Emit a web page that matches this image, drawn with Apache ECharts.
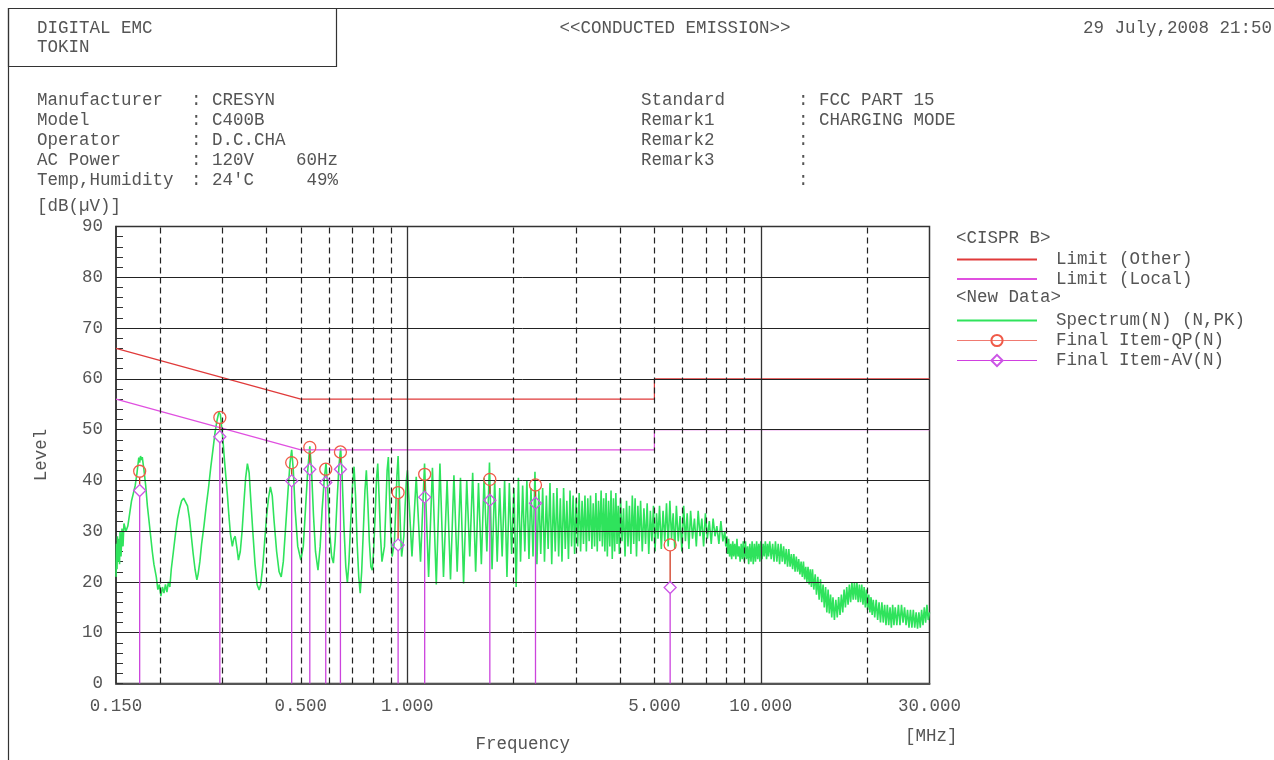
<!DOCTYPE html>
<html><head><meta charset="utf-8">
<script src="https://cdn.jsdelivr.net/npm/echarts@6/dist/echarts.min.js"></script>
<style>html,body{margin:0;padding:0;background:#fff}#c{width:1274px;height:760px}</style>
</head><body><div id="c"></div>
<script>
// ---------- DATA ----------
const xLabelValues = [0.15, 0.5, 1, 5, 10, 30];
const dashedGridFreq = [0.2, 0.3, 0.4, 0.5, 0.6, 0.7, 0.8, 0.9, 2, 3, 4, 5, 6, 7, 8, 9, 20];
const solidGridFreq = [1, 10];
const levelGrid = [10, 20, 30, 40, 50, 60, 70, 80];

const limitFreq = [0.15, 0.5, 5, 5, 30];
const limitOther = [66, 56, 56, 60, 60];
const limitLocal = [56, 46, 46, 50, 50];

const markerFreq = [0.175, 0.295, 0.471, 0.530, 0.588, 0.647, 0.942, 1.120, 1.712, 2.305, 5.54];
const qpLevel = [41.8, 52.4, 43.5, 46.5, 42.2, 45.6, 37.6, 41.2, 40.2, 39.1, 27.3];
const avLevel = [38.0, 48.6, 39.9, 42.2, 39.6, 42.2, 27.3, 36.7, 36.1, 35.5, 18.9];

const specLow = [
[0.150,21.0],[0.1505,27.5],[0.151,22.5],[0.1515,29],[0.152,24],[0.153,28.5],[0.1535,23.5],[0.154,30],
[0.155,25],[0.156,30.5],[0.157,27],[0.158,31.5],[0.160,30],[0.162,31],[0.164,33.5],[0.166,36],
[0.168,37.5],[0.170,39],[0.172,41.5],[0.174,44.5],[0.175,43.5],[0.176,44.8],[0.177,44],[0.178,44.6],
[0.180,42],[0.182,39],[0.184,35],[0.186,32],[0.188,29],[0.190,26],[0.192,23.5],[0.195,21],
[0.197,18.5],[0.199,19.5],[0.201,17.2],[0.203,19],[0.205,17.8],[0.207,19.5],[0.209,18],[0.211,20],
[0.213,19],[0.215,22.5],[0.218,26],[0.221,29.5],[0.224,32.5],[0.227,34.5],[0.230,36],[0.233,36.5],
[0.236,36.3],[0.239,35],[0.242,32.5],[0.245,29],[0.248,25.5],[0.251,22.5],[0.254,20.4],[0.256,21.5],
[0.259,24],[0.262,27.5],[0.266,31],[0.270,35],[0.274,38.5],[0.278,42.5],[0.282,46],[0.286,49.5],
[0.290,52],[0.293,53.4],[0.296,53.0],[0.298,51],[0.301,48],[0.304,44],[0.307,40.5],[0.310,37],
[0.313,33],[0.316,29.5],[0.320,27],[0.323,28.5],[0.326,29],[0.330,26.5],[0.333,24.3],[0.337,26],
[0.341,30],[0.345,35.5],[0.349,40.5],[0.353,43.3],[0.357,41.5],[0.361,36],[0.366,29.5],[0.371,23.5],
[0.376,19.5],[0.381,18.4],[0.385,19.5],[0.390,23],[0.395,28],[0.400,33],[0.405,36.5],[0.410,38.7],
[0.415,37],[0.420,32],[0.427,26],[0.434,22],[0.440,21],[0.446,24],[0.453,31],[0.460,38],
[0.466,43.5],[0.471,46],[0.476,42],[0.482,34],[0.490,27],[0.500,24.3],[0.508,27],[0.515,34],
[0.523,42],[0.530,46.7],[0.536,42],[0.543,33],[0.550,26],[0.559,22.3],[0.567,27],[0.574,34],
[0.582,40],[0.589,43.4],[0.595,39],[0.603,30],[0.611,25],[0.618,23.7],[0.625,28],[0.633,36],
[0.641,43],[0.648,46.3],[0.654,41],[0.662,31],[0.670,23],[0.677,19.8],[0.684,24],[0.692,32],
[0.700,39],[0.707,42.7],[0.714,37],[0.721,28],[0.729,21],[0.736,17.8],[0.743,22],[0.751,30],
[0.759,38],[0.766,42],[0.773,36],[0.781,28],[0.789,23],[0.796,22.3],[0.803,26],[0.811,33],
[0.818,40],[0.825,43.3],[0.832,37],[0.840,29],[0.848,24],[0.855,23.7],[0.862,27],[0.870,35],
[0.877,42],[0.884,44.6],[0.891,37],[0.899,29],[0.906,25],[0.913,25],[0.920,28],[0.928,35],
[0.935,41],[0.942,44.8],[0.949,38],[0.957,30],[0.964,25],[0.971,25],[0.978,29],[0.986,35],
[0.994,40]
];
const specMid = [
[1.001,42],[1.031,25],[1.060,40.7],[1.090,24],[1.119,43.3],[1.149,21],[1.178,42.5],[1.208,19.5],
[1.237,43.3],[1.266,21],[1.296,40.0],[1.325,20.5],[1.355,41.0],[1.384,22],[1.414,40.5],[1.443,19.7],
[1.473,40.0],[1.502,25],[1.531,41.5],[1.561,22],[1.590,39.5],[1.620,23.5],[1.649,40.5],[1.679,26],
[1.708,43.5],[1.737,22.5],[1.767,40.0],[1.796,24],[1.826,38.5],[1.855,25],[1.885,40.0],[1.914,21],
[1.944,39.5],[1.973,25.5],[2.003,38.5],[2.032,19],[2.062,40.5],[2.091,24],[2.120,39.0],[2.150,26],
[2.179,40.0],[2.209,24.5],[2.238,38.5],[2.268,25],[2.297,41.7],[2.326,23.5],[2.356,38.0],[2.385,25.5],
[2.415,38.5],[2.444,24],[2.474,37.0],[2.503,26.5],[2.533,39.5],[2.562,23.5],[2.592,37.5],[2.621,26],
[2.651,38.5],[2.680,25],[2.709,36.5],[2.739,24],[2.768,38.5],[2.798,26.5],[2.827,36.0],[2.857,24.5],
[2.886,38.0],[2.916,27],[2.945,37.0],[2.974,25.5],[3.004,36.5],[3.033,27],[3.063,37.5],[3.092,26],
[3.122,36.0],[3.151,27.5],[3.181,37.0],[3.210,26],[3.240,36.5],[3.269,28],[3.298,37.0],[3.328,26.5],
[3.357,35.5],[3.387,27],[3.416,37.5],[3.446,26],[3.475,36.0],[3.504,28],[3.534,38.0],[3.563,27],
[3.593,36.5],[3.622,26]
];
const specHigh = [
[3.65,37.5],[3.68,25],[3.71,36],[3.74,27],[3.77,38],[3.80,24.5],[3.83,36.5],[3.86,26],
[3.89,37.5],[3.92,27.5],[3.95,35],[3.98,25.5],[4.01,36.5],[4.05,28],[4.09,34.5],[4.13,25],
[4.17,36],[4.21,27],[4.25,35],[4.29,25.5],[4.33,37],[4.37,27.5],[4.41,36.5],[4.45,25],
[4.49,35],[4.53,28],[4.57,36],[4.62,26],[4.67,34.5],[4.72,27.5],[4.77,35.5],[4.82,25.5],
[4.87,34],[4.92,28],[4.97,35],[5.02,26],[5.07,33.5],[5.12,28.5],[5.17,35],[5.23,26.5],
[5.29,34],[5.35,28],[5.41,35.5],[5.47,27],[5.53,36],[5.59,28.5],[5.65,33.5],[5.71,26.5],
[5.77,35],[5.84,28],[5.91,33],[5.98,26],[6.05,35],[6.12,28],[6.19,33.5],[6.26,26.5],
[6.33,34],[6.41,28.5],[6.49,32.5],[6.57,27],[6.65,34],[6.73,29],[6.81,32.5],[6.89,27],
[6.97,33.5],[7.06,28.5],[7.15,32],[7.24,27.5],[7.33,32.5],[7.42,29],[7.51,31],[7.61,27.5],
[7.71,32],[7.81,28],[7.91,30],[7.96,27],[8.01,29],[8.06,25.5],[8.11,28.5],[8.16,25],
[8.22,27.5],[8.27,24.5],[8.33,28],[8.38,25],[8.44,27.5],[8.50,24.5],[8.56,28.5],[8.62,25],
[8.68,27],[8.74,24],[8.80,27.5],[8.86,24.5],[8.92,28],[8.98,24],[9.05,28],[9.11,24.5],
[9.18,27],[9.24,23.5],[9.31,27.5],[9.38,24],[9.45,28],[9.52,23.5],[9.59,27.5],[9.66,24],
[9.73,28],[9.80,24.5],[9.87,27.5],[9.94,24],[10.0,28],[10.08,24.5],[10.15,27.5],[10.22,25],
[10.3,28],[10.38,24.5],[10.45,27.5],[10.52,25],[10.6,28],[10.7,24.5],[10.8,27.5],[10.9,24],
[11.0,28],[11.1,24],[11.2,27.5],[11.3,23.5],[11.4,27.5],[11.5,24],[11.6,27],[11.7,23.5],
[11.8,26.5],[11.9,23],[12.0,26.5],[12.1,23],[12.2,25.5],[12.3,22.5],[12.4,25.5],[12.5,22],
[12.6,25],[12.7,22],[12.8,24.5],[12.9,21.5],[13.0,24],[13.1,21],[13.2,24],[13.3,20.5],
[13.4,23],[13.5,20],[13.6,23],[13.7,19.5],[13.8,22.5],[13.9,19],[14.0,22.5],[14.12,18.5],
[14.25,21.5],[14.37,17.5],[14.5,21],[14.62,16.5],[14.75,20.5],[14.87,16],[15.0,19.5],[15.12,15],
[15.25,19],[15.37,14],[15.5,18.5],[15.62,13.8],[15.75,17.5],[15.87,13],[16.0,17],[16.15,12.5],
[16.3,16.5],[16.45,13],[16.6,17],[16.75,13.5],[16.9,17.5],[17.05,14],[17.2,18.5],[17.35,15],
[17.5,19],[17.65,15.5],[17.8,19.5],[17.95,16],[18.1,20],[18.25,16.5],[18.4,20],[18.55,16.5],
[18.7,20],[18.85,16],[19.0,19.5],[19.15,16],[19.3,19.5],[19.45,15.5],[19.6,19],[19.75,15],
[19.9,18.5],[20.05,14.5],[20.2,17.5],[20.35,14],[20.5,17],[20.65,13.5],[20.8,16.5],[21.0,13],
[21.2,16.5],[21.4,12.5],[21.6,16],[21.8,12],[22.0,16],[22.2,12],[22.4,15.5],[22.6,11.5],
[22.8,15.5],[23.0,11.5],[23.2,15],[23.4,11],[23.6,15.5],[23.8,11.5],[24.0,15],[24.25,11.5],
[24.5,15.5],[24.75,11.5],[25.0,15.5],[25.25,12],[25.5,15],[25.75,11.5],[26.0,14.5],[26.25,11],
[26.5,14.5],[26.75,11],[27.0,14.5],[27.25,11],[27.5,14],[27.75,10.8],[28.0,14],[28.25,11],
[28.5,14.5],[28.75,11.5],[29.0,15],[29.25,12],[29.5,15.5],[29.75,12.5],[30.0,14]
];

const infoLeft = [["Manufacturer", ": CRESYN"], ["Model", ": C400B"], ["Operator", ": D.C.CHA"],
  ["AC Power", ": 120V    60Hz"], ["Temp,Humidity", ": 24'C     49%"]];
const infoRight = [["Standard", ": FCC PART 15"], ["Remark1", ": CHARGING MODE"], ["Remark2", ":"],
  ["Remark3", ":"], ["", ":"]];

// ---------- CHART ----------
const FONT = '"Liberation Mono", "DejaVu Sans Mono", monospace';
const FS = 17.5;
const TXT = '#555';
const GREEN = '#2fe35c';

const gridMarks = [];
dashedGridFreq.forEach(v => gridMarks.push({xAxis: v, lineStyle: {type: [6, 4], color: '#222', width: 1.2}}));
solidGridFreq.forEach(v => gridMarks.push({xAxis: v, lineStyle: {type: 'solid', color: '#333', width: 1.3}}));
levelGrid.forEach(v => gridMarks.push({yAxis: v, lineStyle: {type: 'solid', color: '#222', width: 1}}));

function txt(x, y, s, extra) {
  return Object.assign({type: 'text', x: x, y: y, silent: true,
    style: Object.assign({text: s, font: FS + 'px ' + FONT, fill: TXT, textVerticalAlign: 'middle'}, extra || {})});
}
const graphics = [
  {type: 'rect', silent: true, shape: {x: 8.5, y: 8.5, width: 1300, height: 800}, style: {fill: 'none', stroke: '#333', lineWidth: 1.2}},
  {type: 'rect', silent: true, shape: {x: 8.5, y: 8.5, width: 328, height: 58}, style: {fill: 'none', stroke: '#333', lineWidth: 1.2}},
  txt(37, 28, 'DIGITAL EMC'), txt(37, 47, 'TOKIN'),
  txt(675, 28, '<<CONDUCTED EMISSION>>', {textAlign: 'center'}),
  txt(1272, 28, '29 July,2008 21:50', {textAlign: 'right'}),
  txt(37, 206, '[dB(\u00b5V)]'),
  txt(905, 736, '[MHz]'),
  txt(956, 238, '<CISPR B>'),
  txt(956, 297, '<New Data>')
];
infoLeft.forEach((r, i) => { graphics.push(txt(37, 100 + i * 20, r[0])); graphics.push(txt(191, 100 + i * 20, r[1])); });
infoRight.forEach((r, i) => { graphics.push(txt(641, 100 + i * 20, r[0])); graphics.push(txt(798, 100 + i * 20, r[1])); });

const legendText = {fontFamily: FONT, fontSize: FS, color: TXT, padding: [0, 0, 0, 14], lineHeight: 19};
const hideSym = {opacity: 0};

const option = {
  animation: false,
  backgroundColor: '#fff',
  textStyle: {fontFamily: FONT},
  grid: {left: 116, top: 226.5, right: 344.5, bottom: 76.5, show: true, borderColor: '#333', borderWidth: 1.5, outerBoundsMode: 'none'},
  legend: [
    {orient: 'vertical', left: 956, top: 250, padding: 0, itemWidth: 80, itemHeight: 14, itemGap: 0.5, selectedMode: false,
     textStyle: legendText,
     data: [{name: 'Limit (Other)', itemStyle: hideSym}, {name: 'Limit (Local)', itemStyle: hideSym}]},
    {orient: 'vertical', left: 956, top: 311, padding: 0, itemWidth: 80, itemHeight: 14, itemGap: 1, selectedMode: false,
     textStyle: legendText,
     data: [{name: 'Spectrum(N) (N,PK)', itemStyle: hideSym},
            {name: 'Final Item-QP(N)', lineStyle: {opacity: 1, width: 1.2, color: '#f07a70'}},
            {name: 'Final Item-AV(N)', lineStyle: {opacity: 1, width: 1.2, color: '#d040e0'}}]}
  ],
  xAxis: {
    type: 'log', logBase: 10, min: 0.15, max: 30,
    axisLine: {show: true, lineStyle: {color: '#555', width: 2}},
    axisTick: {show: false}, splitLine: {show: false}, minorTick: {show: false}, minorSplitLine: {show: false},
    axisLabel: {customValues: xLabelValues, formatter: v => Number(v).toFixed(3), margin: 14,
      fontFamily: FONT, fontSize: FS, color: TXT},
    name: 'Frequency', nameLocation: 'middle', nameGap: 52,
    nameTextStyle: {fontFamily: FONT, fontSize: FS, color: TXT}
  },
  yAxis: {
    type: 'value', min: 0, max: 90, interval: 10,
    axisLine: {show: true, lineStyle: {color: '#333', width: 1.5}},
    axisTick: {show: true, inside: true, length: 7, lineStyle: {color: '#333'}},
    minorTick: {show: true, splitNumber: 5, length: 7, lineStyle: {color: '#333'}},
    splitLine: {show: false},
    axisLabel: {fontFamily: FONT, fontSize: FS, color: TXT, margin: 13},
    name: 'Level', nameLocation: 'middle', nameGap: 66, nameRotate: 90,
    nameTextStyle: {fontFamily: FONT, fontSize: FS, color: TXT}
  },
  graphic: graphics,
  series: [
    {type: 'line', name: 'Spectrum(N) (N,PK)', z: 2, symbol: 'none', silent: true,
     lineStyle: {color: GREEN, width: 1.6}, itemStyle: {color: GREEN},
     data: specLow.concat(specMid, specHigh)},
    {type: 'line', name: 'gridlines', z: 3, data: [], silent: true,
     markLine: {silent: true, symbol: ['none', 'none'], label: {show: false}, animation: false, data: gridMarks}},
    {type: 'line', name: 'Limit (Other)', z: 4, symbol: 'none', silent: true,
     lineStyle: {color: '#e03a3a', width: 1.2}, itemStyle: {color: '#e03a3a'},
     data: limitFreq.map((f, i) => [f, limitOther[i]])},
    {type: 'line', name: 'Limit (Local)', z: 4, symbol: 'none', silent: true,
     lineStyle: {color: '#e050e0', width: 1.2}, itemStyle: {color: '#e050e0'},
     data: limitFreq.map((f, i) => [f, limitLocal[i]])},
    {type: 'custom', name: 'drops', z: 5, silent: true,
     data: markerFreq.map((f, i) => [f, qpLevel[i], avLevel[i]]),
     encode: {x: 0, y: [1, 2]},
     renderItem: function (params, api) {
       const f = api.value(0), q = api.value(1), a = api.value(2);
       const pq = api.coord([f, q]), pa = api.coord([f, a]), p0 = api.coord([f, 0]);
       return {type: 'group', children: [
         {type: 'line', shape: {x1: pq[0], y1: pq[1] + 6, x2: pa[0], y2: pa[1] - 6}, style: {stroke: '#d03a20', lineWidth: 1.3}},
         {type: 'line', shape: {x1: pa[0], y1: pa[1] + 6, x2: p0[0], y2: p0[1]}, style: {stroke: '#cc44dd', lineWidth: 1.3}}
       ]};
     }},
    {type: 'line', name: 'Final Item-QP(N)', z: 6, symbol: 'circle', symbolSize: 12, silent: true,
     lineStyle: {opacity: 0, color: '#f07a70'},
     itemStyle: {color: 'rgba(255,255,255,0)', borderColor: '#f05a48', borderWidth: 1.3},
     data: markerFreq.map((f, i) => [f, qpLevel[i]])},
    {type: 'line', name: 'Final Item-AV(N)', z: 6, symbol: 'diamond', symbolSize: 12, silent: true,
     lineStyle: {opacity: 0, color: '#d040e0'},
     itemStyle: {color: 'rgba(255,255,255,0)', borderColor: '#cc55e6', borderWidth: 1.3},
     data: markerFreq.map((f, i) => [f, avLevel[i]])}
  ]
};
const chart = echarts.init(document.getElementById('c'), null, {renderer: 'canvas'});
chart.setOption(option);
</script>
</body></html>
